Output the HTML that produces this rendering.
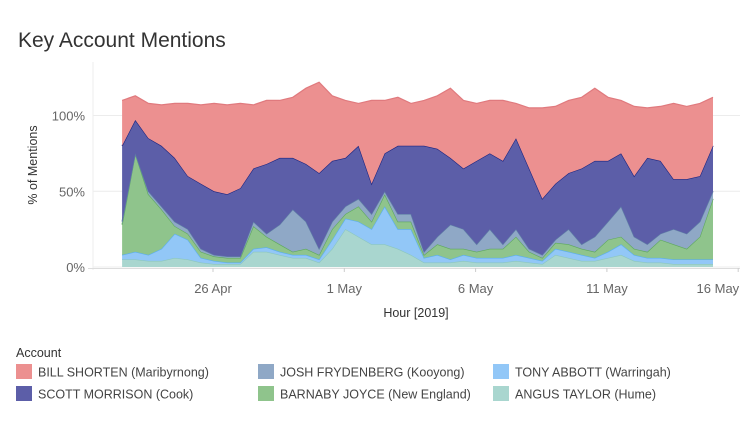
<!DOCTYPE html>
<html><head><meta charset="utf-8">
<style>
body{margin:0;background:#fff;width:754px;height:430px;overflow:hidden;font-family:"Liberation Sans",sans-serif;}
svg{display:block}
</style></head>
<body>
<svg id="chart" width="754" height="430" xmlns="http://www.w3.org/2000/svg">
<text x="18" y="47" font-size="21" fill="#333">Key Account Mentions</text>
<g id="grid"></g>
<g id="areas"></g>
<g id="axes"></g>
<text transform="translate(37,165) rotate(-90)" text-anchor="middle" font-size="12.5" fill="#333">% of Mentions</text>
<text x="416" y="317" text-anchor="middle" font-size="12.5" fill="#333">Hour [2019]</text>
<g id="legend"></g>
</svg>
<script>
// time in days since 22 Apr 00:00, 12-hour samples starting 22 Apr 13:00
const startDay = 0.54;
const stepDay = 0.5;
const angus   = [5,5,4,4,6,5,3,2,2,2,10,10,8,6,6,3,12,25,20,15,15,12,8,3,3,3,4,3,3,3,4,3,2,8,6,4,4,6,8,4,3,3,2,2,2,2];
const abbott  = [3,5,4,8,16,13,3,2,1,1,2,3,2,2,2,2,6,7,10,10,25,13,17,3,5,2,4,3,3,3,4,3,2,4,4,4,2,4,7,4,3,3,3,3,3,3];
const joyce   = [20,65,40,26,5,4,4,3,3,3,15,7,5,2,4,3,7,3,10,5,8,5,5,2,7,7,4,4,6,6,12,4,2,4,5,4,4,8,5,4,4,12,10,7,15,40];
const frydenberg = [2,0,2,2,3,3,2,1,1,1,3,2,13,28,18,4,5,5,5,5,2,5,5,2,5,16,13,5,13,3,5,2,2,2,10,3,10,12,20,8,5,4,10,10,10,5];
const morrison = [50,22,35,40,42,35,43,42,41,45,35,46,44,34,38,50,40,32,35,20,25,45,45,70,58,44,40,55,50,55,60,53,37,37,37,50,50,40,35,40,57,48,33,36,30,30];
const shorten = [30,16,23,27,36,48,52,58,59,56,42,42,38,40,50,60,43,38,28,55,35,32,28,30,35,46,45,38,35,40,23,40,60,51,48,47,48,42,35,46,33,36,50,48,48,32];
const yTicks = [0,50,100];
const yTickLabels = ["0%","50%","100%"];
const xTickDays = [4,9,14,19,24];
const xTickLabels = ["26 Apr","1 May","6 May","11 May","16 May"];

const series = [
 {name:"angus-taylor", vals:angus, fill:"#a9d6cf", line:"#8cc7be"},
 {name:"tony-abbott", vals:abbott, fill:"#92c7f7", line:"#5aaef0"},
 {name:"barnaby-joyce", vals:joyce, fill:"#8fc48c", line:"#5ea95c"},
 {name:"josh-frydenberg", vals:frydenberg, fill:"#8fa8c6", line:"#5f7fa6"},
 {name:"scott-morrison", vals:morrison, fill:"#5c5ea8", line:"#1b2480"},
 {name:"bill-shorten", vals:shorten, fill:"#ec9090", line:"#e07a7e"}
];
const NS="http://www.w3.org/2000/svg";
function x(day){return 213 + (day-4)*26.26;}
function y(p){return 267 - p*1.515;}
function mk(tag,attrs,parent){const e=document.createElementNS(NS,tag);for(const k in attrs)e.setAttribute(k,attrs[k]);parent.appendChild(e);return e;}

const grid=document.getElementById('grid');
yTicks.forEach((t,i)=>{
  const l=mk('line',{x1:93,x2:740,y1:y(t),y2:y(t),stroke:'#ececec','stroke-width':1},grid);
  
  
  const tx=mk('text',{x:85,y:y(t)+5,'text-anchor':'end','font-size':13,fill:'#666'},grid);
  tx.textContent=yTickLabels[i];
  
  
});
const ax=document.getElementById('axes');
const vl=mk('line',{x1:93,x2:93,y1:62,y2:270,stroke:'#eee'},ax);


const hl=mk('line',{x1:88,x2:740,y1:268.5,y2:268.5,stroke:'#ddd'},ax);


xTickDays.forEach((d,i)=>{
  const tk=mk('line',{x1:x(d),x2:x(d),y1:268,y2:272,stroke:'#ccc'},ax);
  
  
  const last = i===xTickDays.length-1;
  const tx=mk('text',{x:last?x(d)+1:x(d),y:293,'text-anchor':last?'end':'middle','font-size':13,fill:'#666'},ax);
  tx.textContent=xTickLabels[i];
  
  
});

const areas=document.getElementById('areas');
const n=angus.length;
let base=new Array(n).fill(0);
series.forEach(s=>{
  const top=base.map((b,i)=>b+s.vals[i]);
  let up='',down='';
  for(let i=0;i<n;i++){up+=(i?'L':'M')+x(startDay+i*stepDay).toFixed(1)+','+y(top[i]).toFixed(1);}
  for(let i=n-1;i>=0;i--){down+='L'+x(startDay+i*stepDay).toFixed(1)+','+y(base[i]).toFixed(1);}
  const p=mk('path',{d:up+down+'Z',fill:s.fill,stroke:'none'},areas);
  
  
  const ln=mk('path',{d:up,fill:'none',stroke:s.line,'stroke-width':1.2},areas);
  
  
  base=top;
});

const lg=document.getElementById('legend');
const t=mk('text',{x:16,y:357,'font-size':12.5,fill:'#333'},lg);
t.textContent='Account';


const items=[
 ["BILL SHORTEN (Maribyrnong)","#ec9090",16,364],
 ["JOSH FRYDENBERG (Kooyong)","#8fa8c6",258,364],
 ["TONY ABBOTT (Warringah)","#92c7f7",493,364],
 ["SCOTT MORRISON (Cook)","#5c5ea8",16,386],
 ["BARNABY JOYCE (New England)","#8fc48c",258,386],
 ["ANGUS TAYLOR (Hume)","#a9d6cf",493,386]
];
items.forEach(it=>{
  const g=mk('g',{},lg);
  
  
  mk('rect',{x:it[2],y:it[3],width:16,height:15,fill:it[1]},g);
  const tx=mk('text',{x:it[2]+22,y:it[3]+12.5,'font-size':12.5,fill:'#444'},g);
  tx.textContent=it[0];
});
</script>
</body></html>
